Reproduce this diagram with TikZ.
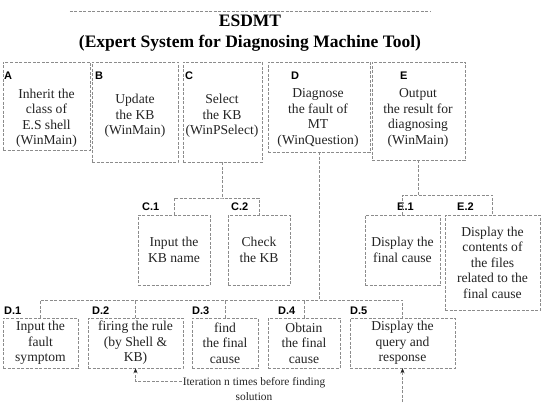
\documentclass[tikz,border=0pt]{standalone}
\usepackage{fontspec}
\setmainfont{Liberation Serif}
\newfontfamily\tagfont{Liberation Sans}
\usepackage{tikz}
\usetikzlibrary{arrows.meta,calc,positioning}
\definecolor{scangray}{RGB}{140,140,140}
\definecolor{inkgray}{RGB}{35,35,35}

\tikzset{
  box/.style={draw=scangray,dash pattern=on 3pt off 1.5pt,line width=0.5pt,inner sep=0pt},
  txt/.style={align=center,text=inkgray,font=\fontsize{13.6}{15.5}\selectfont},
  tag/.style={anchor=base west,inner sep=0pt,text=black,font=\tagfont\bfseries\fontsize{11}{11}\selectfont},
  link/.style={draw=scangray,dash pattern=on 3pt off 1.5pt,line width=0.5pt},
}

\begin{document}
\begin{tikzpicture}[x=1pt,y=-1pt,>={Stealth[length=5pt,width=4pt,inkgray]}]
  \useasboundingbox (0,0) rectangle (545,417);

  % title
  \node[align=center,inner sep=3pt,minimum width=360pt,font=\bfseries\fontsize{17.5}{21}\selectfont] (title) at (250,33)
    {ESDMT\\(Expert System for Diagnosing Machine Tool)};
  \draw[link] (title.north west) -- (title.north east);

  % main functions
  \node[box,minimum width=87pt,minimum height=88pt] (A) at (46.5,106) {};
  \node[box,minimum width=86pt,minimum height=100pt] (B) at (135,112) {};
  \node[box,minimum width=79pt,minimum height=100pt] (C) at (222.5,112) {};
  \node[box,minimum width=102pt,minimum height=90pt] (D) at (319,107) {};
  \node[box,minimum width=93pt,minimum height=98pt] (E) at (418.5,111) {};
  \node[txt] (At) at (46.5,118) {Inherit the\\class of\\E.S shell\\(WinMain)};
  \node[txt] (Bt) at (135,116) {Update\\the KB\\(WinMain)};
  \node[txt] (Ct) at (222,116) {Select\\the KB\\(WinPSelect)};
  \node[txt] (Dt) at (318,118) {Diagnose\\the fault of\\MT\\(WinQuestion)};
  \node[txt] (Et) at (418,118) {Output\\the result for\\diagnosing\\(WinMain)};
  \node[tag] (Atag) at (4,80) {A};
  \node[tag] (Btag) at (95,80) {B};
  \node[tag] (Ctag) at (185,80) {C};
  \node[tag] (Dtag) at (291,80) {D};
  \node[tag] (Etag) at (400,80) {E};

  % C sub-functions
  \node[box,minimum width=72pt,minimum height=70pt] (C1) at (174,250) {};
  \node[box,minimum width=62pt,minimum height=70pt] (C2) at (259,250) {};
  \node[txt] (C1t) at (C1) {Input the\\KB name};
  \node[txt] (C2t) at (C2) {Check\\the KB};
  \node[tag] (C1tag) at (142,210) {C.1};
  \node[tag] (C2tag) at (231,210) {C.2};
  \draw[link] (C.south) -- (C.south |- 0,198) coordinate (cbus);
  \draw[link] (C1.north) |- (cbus) -| (C2.north);

  % E sub-functions
  \node[box,minimum width=75pt,minimum height=70pt] (E1) at (402.5,250) {};
  \node[box,minimum width=95pt,minimum height=95pt] (E2) at (492.5,262.5) {};
  \node[txt] (E1t) at (E1) {Display the\\final cause};
  \node[txt] (E2t) at (E2) {Display the\\contents of\\the files\\related to the\\final cause};
  \node[tag] (E1tag) at (397,210) {E.1};
  \node[tag] (E2tag) at (457,210) {E.2};
  \draw[link] (E.south) -- (E.south |- 0,195) coordinate (ebus);
  \draw[link] (E1.north) |- (ebus) -| (E2.north);

  % D sub-functions
  \node[box,minimum width=75pt,minimum height=50pt] (D1) at (40.5,343) {};
  \node[box,minimum width=95pt,minimum height=50pt] (D2) at (135.5,343) {};
  \node[box,minimum width=66pt,minimum height=50pt] (D3) at (225,343) {};
  \node[box,minimum width=72pt,minimum height=50pt] (D4) at (304,343) {};
  \node[box,minimum width=105pt,minimum height=50pt] (D5) at (402.5,343) {};
  \node[txt] (D1t) at (D1) {Input the\\fault\\symptom};
  \node[txt] (D2t) at (D2) {firing the rule\\(by Shell \&\\KB)};
  \node[txt] (D3t) at (D3) {find\\the final\\cause};
  \node[txt] (D4t) at (D4) {Obtain\\the final\\cause};
  \node[txt] (D5t) at (D5) {Display the\\query and\\response};
  \node[tag] (D1tag) at (4,314) {D.1};
  \node[tag] (D2tag) at (92,314) {D.2};
  \node[tag] (D3tag) at (192,314) {D.3};
  \node[tag] (D4tag) at (278,314) {D.4};
  \node[tag] (D5tag) at (350,314) {D.5};
  \draw[link] (D.south) -- (D.south |- 0,300) coordinate (dbus);
  \draw[link] (D1.north) |- (dbus) -| (D5.north);
  \foreach \n in {D2,D3,D4}
    \draw[link] (\n.north) -- (\n.north |- dbus);

  % iteration loop
  \node[align=center,text=inkgray,inner sep=1pt,font=\fontsize{11.4}{15.5}\selectfont] (iter) at (254,389)
    {Iteration n times before finding\\solution};
  \coordinate (loopL) at (iter.west |- 0,381);
  \coordinate (loopR) at (D5.south |- 0,402);
  \draw[link,->] (loopL) -| (D2.south);
  \draw[link,->] (loopR) -- (D5.south);
\end{tikzpicture}
\end{document}
